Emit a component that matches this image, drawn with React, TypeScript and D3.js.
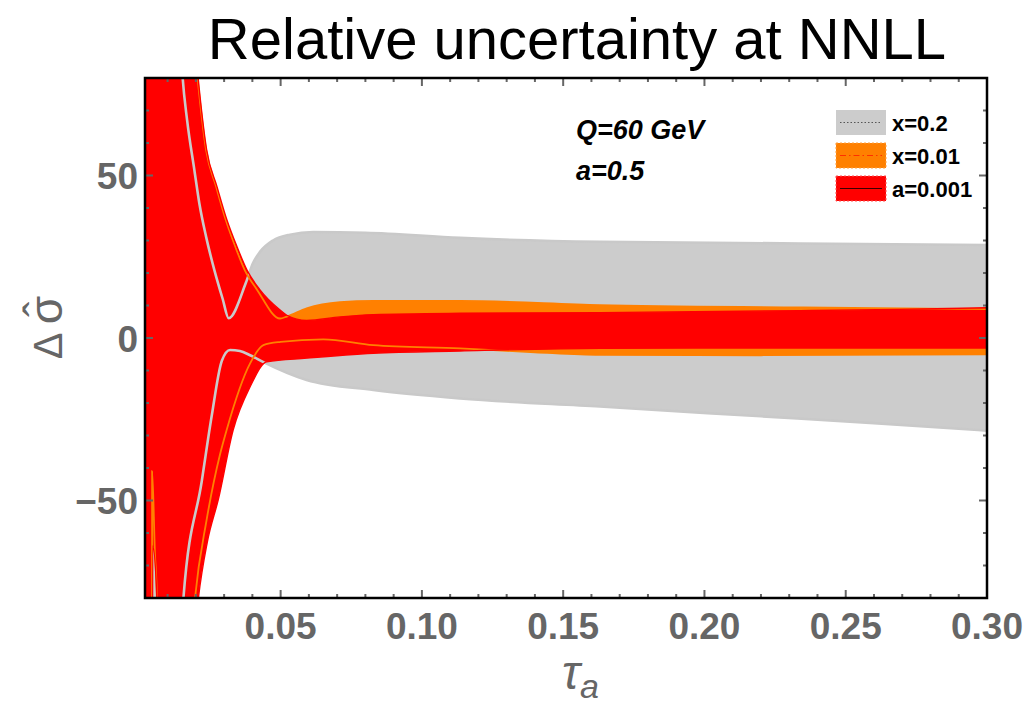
import React from "react";
import * as d3 from "d3";

const W = 1027;
const H = 707;
const PLOT = { left: 145, right: 987, top: 78, bottom: 598 };

const X_DOMAIN: [number, number] = [0.002, 0.3];
const Y_DOMAIN: [number, number] = [-80, 80];

// Band "x=0.2" (gray): upper and lower edges
const grayUpperTau = [0.002, 0.01, 0.0135, 0.01533, 0.01689, 0.01947, 0.02124, 0.02361, 0.02655, 0.0295, 0.03161, 0.0377, 0.0402, 0.0427, 0.0473, 0.0533, 0.0615, 0.08, 0.1135, 0.163, 0.234, 0.3];
const grayUpperVal = [200, 200, 110, 80, 67.1, 51.7, 41.4, 31.2, 20.9, 12, 6.1, 17, 23, 26.5, 30, 31.8, 32.6, 32.4, 30.8, 29.6, 29.1, 28.6];
const grayLowerTau = [0.002, 0.01, 0.0138, 0.0156, 0.0221, 0.0256, 0.0292, 0.0321, 0.0356, 0.0392, 0.0439, 0.0592, 0.0828, 0.1135, 0.163, 0.22, 0.26, 0.3];
const grayLowerVal = [-200, -200, -110, -80, -44, -24, -7, -3.7, -4, -5.3, -7.4, -12.9, -16, -18.6, -21.1, -24.1, -26.2, -28.5];

// Band "x=0.01" (orange)
const orangeUpperTau = [0.002, 0.012, 0.0175, 0.0206, 0.0236, 0.0272, 0.0306, 0.034, 0.0373, 0.0417, 0.0498, 0.0522, 0.0592, 0.071, 0.0828, 0.1135, 0.163, 0.234, 0.27, 0.3];
const orangeUpperVal = [200, 200, 110, 80, 58, 46.5, 36.3, 28, 20.9, 14.8, 6.0, 6.6, 9.1, 11.0, 11.4, 11.4, 10.1, 9.4, 9.1, 8.9];
const orangeLowerTau = [0.002, 0.0044, 0.00452, 0.0055, 0.0062, 0.0068, 0.012, 0.017, 0.0197, 0.0238, 0.0285, 0.0309, 0.0392, 0.0439, 0.05, 0.0651, 0.0828, 0.1135, 0.14, 0.163, 0.22, 0.3];
const orangeLowerVal = [-200, -200, -41, -66, -80, -200, -200, -110, -80, -56, -36, -28.3, -7.8, -2.2, -1.2, -0.4, -2.2, -3.2, -4.4, -5.2, -5.3, -5.0];

// Band "a=0.001" (red)
const redUpperTau = [0.002, 0.012, 0.0178, 0.0208, 0.0238, 0.0275, 0.031, 0.0346, 0.0381, 0.0427, 0.0498, 0.0522, 0.0592, 0.071, 0.0828, 0.1135, 0.163, 0.234, 0.269, 0.3];
const redUpperVal = [200, 200, 110, 80, 58, 46.5, 36.3, 28, 20.9, 14.8, 8.6, 7.0, 5.4, 6.5, 7.2, 7.6, 7.8, 8.4, 8.8, 9.3];
const redLowerTau = [0.002, 0.0045, 0.00473, 0.0062, 0.0068, 0.012, 0.0178, 0.0209, 0.024, 0.028, 0.0332, 0.0392, 0.0451, 0.0592, 0.0828, 0.1135, 0.163, 0.22, 0.3];
const redLowerVal = [-200, -200, -64, -80, -200, -200, -110, -80, -63, -49.5, -28.3, -15, -7.3, -6.2, -4.7, -4.0, -3.2, -3.1, -3.1];

const xMajorTicks = [0.05, 0.1, 0.15, 0.2, 0.25, 0.3];
const xTickLabels = ["0.05", "0.10", "0.15", "0.20", "0.25", "0.30"];
const yMajorTicks = [-50, 0, 50];
const yTickLabels = ["\u221250", "0", "50"];

const legendLabels = ["x=0.2", "x=0.01", "a=0.001"];
const bandColors = ["#cccccc", "#ff8000", "#ff0000"];
const lineColors = ["#c9c9c9", "#ff8000", "#ff0000"];

const FONT = "'Liberation Sans', Arial, Helvetica, sans-serif";
const GRAY_TEXT = "#666666";

export default function App() {
  const x = d3.scaleLinear().domain(X_DOMAIN).range([PLOT.left, PLOT.right]);
  const y = d3.scaleLinear().domain(Y_DOMAIN).range([PLOT.bottom, PLOT.top]);
  const FAR = 3000;

  const areaDown = (taus: number[], vals: number[]) =>
    d3
      .area<number>()
      .x((_, i) => x(taus[i]))
      .y0(FAR)
      .y1((d) => y(d))
      .curve(d3.curveMonotoneX)(vals) as string;

  const edge = (taus: number[], vals: number[]) =>
    d3
      .line<number>()
      .x((_, i) => x(taus[i]))
      .y((d) => y(d))
      .curve(d3.curveMonotoneX)(vals) as string;

  const bands = [
    { id: "g", up: [grayUpperTau, grayUpperVal], lo: [grayLowerTau, grayLowerVal], lw: 2.6 },
    { id: "o", up: [orangeUpperTau, orangeUpperVal], lo: [orangeLowerTau, orangeLowerVal], lw: 1.8 },
    { id: "r", up: [redUpperTau, redUpperVal], lo: [redLowerTau, redLowerVal], lw: 1.4 },
  ];

  const xMinor = d3.range(1, 30).map((k) => k / 100).filter((t) => Math.abs(t * 20 - Math.round(t * 20)) > 1e-6);
  const yMinor = d3.range(-70, 80, 10).filter((v) => v % 50 !== 0);

  const tickColor = "#666";

  return (
    <svg
      width={W}
      height={H}
      style={{ position: "absolute", left: 0, top: 0, background: "#fff" }}
      fontFamily={FONT}
    >
      <defs>
        <clipPath id="plotClip">
          <rect x={PLOT.left} y={PLOT.top} width={PLOT.right - PLOT.left} height={PLOT.bottom - PLOT.top} />
        </clipPath>
        {bands.map((b) => (
          <mask id={`mask-${b.id}`} key={b.id} maskUnits="userSpaceOnUse" x={-100} y={-3000} width={W + 200} height={7000}>
            <rect x={-100} y={-3000} width={W + 200} height={7000} fill="white" />
            <path d={areaDown(b.lo[0], b.lo[1])} fill="black" />
          </mask>
        ))}
      </defs>

      <rect x={0} y={0} width={W} height={H} fill="#fff" />

      {/* title */}
      <text x={577} y={59} textAnchor="middle" fontSize={58} fill="#000">
        Relative uncertainty at NNLL
      </text>

      <g clipPath="url(#plotClip)">
        {bands.map((b, i) => (
          <path key={`fill-${b.id}`} d={areaDown(b.up[0], b.up[1])} fill={bandColors[i]} mask={`url(#mask-${b.id})`} />
        ))}
        {bands.map((b, i) => (
          <g key={`lines-${b.id}`} fill="none" stroke={lineColors[i]} strokeWidth={b.lw}>
            <path d={edge(b.up[0], b.up[1])} />
            <path d={edge(b.lo[0], b.lo[1])} />
          </g>
        ))}
      </g>

      {/* ticks on all four sides, pointing inward */}
      <g stroke={tickColor} strokeWidth={2}>
        {xMajorTicks.map((t) => (
          <g key={`xM${t}`}>
            <line x1={x(t)} x2={x(t)} y1={PLOT.bottom} y2={PLOT.bottom - 8} />
            <line x1={x(t)} x2={x(t)} y1={PLOT.top} y2={PLOT.top + 8} />
          </g>
        ))}
        {xMinor.map((t) => (
          <g key={`xm${t}`}>
            <line x1={x(t)} x2={x(t)} y1={PLOT.bottom} y2={PLOT.bottom - 4} />
            <line x1={x(t)} x2={x(t)} y1={PLOT.top} y2={PLOT.top + 4} />
          </g>
        ))}
        {yMajorTicks.map((v) => (
          <g key={`yM${v}`}>
            <line x1={PLOT.left} x2={PLOT.left + 8} y1={y(v)} y2={y(v)} />
            <line x1={PLOT.right} x2={PLOT.right - 8} y1={y(v)} y2={y(v)} />
          </g>
        ))}
        {yMinor.map((v) => (
          <g key={`ym${v}`}>
            <line x1={PLOT.left} x2={PLOT.left + 4} y1={y(v)} y2={y(v)} />
            <line x1={PLOT.right} x2={PLOT.right - 4} y1={y(v)} y2={y(v)} />
          </g>
        ))}
      </g>

      {/* frame */}
      <rect
        x={PLOT.left}
        y={PLOT.top}
        width={PLOT.right - PLOT.left}
        height={PLOT.bottom - PLOT.top}
        fill="none"
        stroke="#000"
        strokeWidth={2.5}
      />

      {/* tick labels */}
      <g fontWeight="bold" fontSize={37} fill={GRAY_TEXT}>
        {xMajorTicks.map((t, i) => (
          <text key={`xl${t}`} x={x(t)} y={639} textAnchor="middle">
            {xTickLabels[i]}
          </text>
        ))}
        {yMajorTicks.map((v, i) => (
          <text key={`yl${v}`} x={138} y={y(v) + 13.5} textAnchor="end">
            {yTickLabels[i]}
          </text>
        ))}
      </g>

      {/* axis titles */}
      <g fill={GRAY_TEXT}>
        <text x={562} y={689} fontSize={48} fontStyle="italic">
          τ
          <tspan fontSize={34} dy={9}>
            a
          </tspan>
        </text>
        <g transform="translate(62,328) rotate(-90)">
          <text x={-18} y={0} textAnchor="middle" fontSize={40}>
            Δ
          </text>
          <text x={18} y={0} textAnchor="middle" fontSize={46}>
            σ
          </text>
          <text x={19} y={-6} textAnchor="middle" fontSize={46}>
            ˆ
          </text>
        </g>
      </g>

      {/* parameters */}
      <g fontWeight="bold" fontStyle="italic" fontSize={27} fill="#000">
        <text x={576} y={139}>Q=60 GeV</text>
        <text x={576} y={180}>a=0.5</text>
      </g>

      {/* legend */}
      <g>
        {legendLabels.map((lab, i) => {
          const top = 110 + i * 33;
          return (
            <g key={lab}>
              <rect
                x={836}
                y={top}
                width={50}
                height={25}
                fill={bandColors[i]}
                stroke={i === 0 ? "none" : i === 1 ? "#ffa040" : "#ff5050"}
                strokeWidth={1}
                strokeDasharray="2,2"
              />
              <line
                x1={840}
                x2={882}
                y1={top + 12.5}
                y2={top + 12.5}
                stroke={i === 0 ? "#555" : i === 1 ? "#ff3000" : "#3a0000"}
                strokeWidth={1}
                strokeDasharray={i === 0 ? "1.5,2" : i === 1 ? "6,3,1.5,3" : "none"}
              />
              <text x={892} y={top + 21} fontWeight="bold" fontSize={22} fill="#000">
                {lab}
              </text>
            </g>
          );
        })}
      </g>
    </svg>
  );
}
